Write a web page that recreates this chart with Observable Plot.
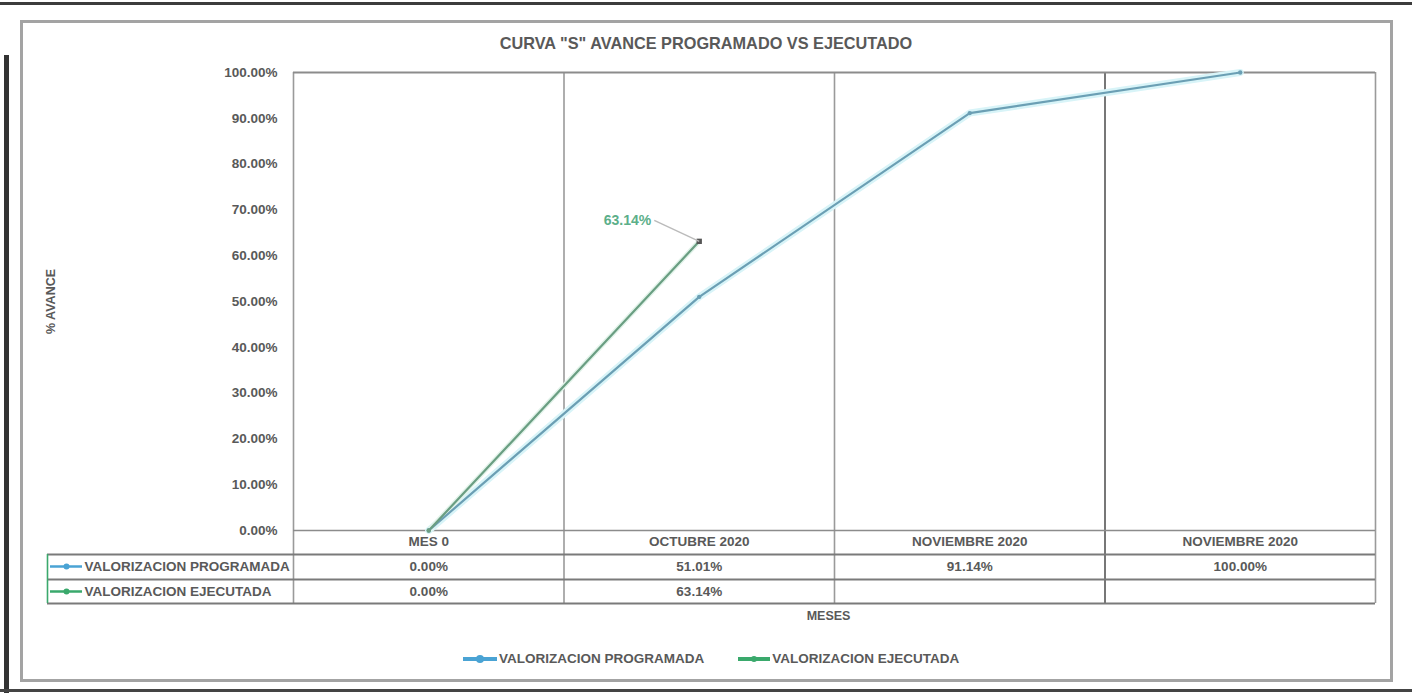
<!DOCTYPE html>
<html>
<head>
<meta charset="utf-8">
<script src="https://cdn.jsdelivr.net/npm/d3@7"></script>
<script src="https://cdn.jsdelivr.net/npm/@observablehq/plot@0.6"></script>
<style>
  body { margin: 0; width: 1412px; height: 693px; position: relative; background: #fff; overflow: hidden;
         font-family: "Liberation Sans", Arial, sans-serif; }
  .scan-top { position: absolute; left: 0; top: 2px; width: 1412px; height: 3px; background: #3c3c3c; }
  .scan-left { position: absolute; left: 4px; top: 55px; width: 5px; height: 638px; background: #333; }
  .scan-bottom { position: absolute; left: 0; top: 689px; width: 1412px; height: 3px; background: #444; }
  .frame { position: absolute; left: 20px; top: 20px; width: 1367px; height: 656px; border: 3px solid #a3a3a3; }
  #title { position: absolute; left: 0; top: 34px; width: 1412px; text-align: center; font-weight: bold;
           font-size: 16.3px; color: #595959; }
  #chart { position: absolute; left: 20px; top: 62px; }
  #legend { position: absolute; left: 463px; top: 651px; display: flex; align-items: center; gap: 34px;
            font-weight: bold; font-size: 13.5px; color: #595959; }
  #legend .item { display: flex; align-items: center; gap: 2px; }
</style>
</head>
<body>
<div class="scan-top"></div>
<div class="scan-left"></div>
<div class="scan-bottom"></div>
<div class="frame"></div>
<div id="title"></div>
<div id="chart"></div>
<div id="legend"></div>
<script>
// ---- data ----
const chartTitle = 'CURVA "S" AVANCE PROGRAMADO VS EJECUTADO';
const yLabel = "% AVANCE";
const xLabel = "MESES";
const categories = ["MES 0", "OCTUBRE 2020", "NOVIEMBRE 2020", "NOVIEMBRE 2020"];
const seriesNames = ["VALORIZACION PROGRAMADA", "VALORIZACION EJECUTADA"];
const programada = [0.0, 0.5101, 0.9114, 1.0];
const ejecutada = [0.0, 0.6314, null, null];
const yTicks = [0, 0.1, 0.2, 0.3, 0.4, 0.5, 0.6, 0.7, 0.8, 0.9, 1.0];
const legendColors = ["#4aa3d4", "#3aa96c"];
const lineColors = ["#6b9fb4", "#6a9e82"];

// ---- layout ----
const W = 1373, H = 568, ML = 273, MR = 18, MT = 10, MB = 100;
const n = categories.length;
const unit = (W - ML - MR) / n;      // px per category
const yUnit = 1 / (H - MT - MB);     // data units per px
const fmt = d3.format(".2%");
const FONT = '"Liberation Sans", Arial, sans-serif';
const txt = {fontWeight: "bold", fontSize: 13.5, fill: "#595959"};

const cats = categories.map((c, i) => ({c, x: i + 0.5}));
const prog = programada.map((v, i) => ({x: i + 0.5, v}));
const ejec = ejecutada.map((v, i) => ({x: i + 0.5, v})).filter(d => d.v != null);
const seriesRows = [prog, ejec];
const rowDy = [36, 61];
const lastEjec = ejec[ejec.length - 1];

document.getElementById("title").textContent = chartTitle;

const marks = [
  // column lines of plot area + table
  Plot.ruleX(d3.range(n + 1), {stroke: d => d === 3 ? "#555" : "#9a9a9a", strokeWidth: 1.6, insetBottom: -73}),
  Plot.ruleY([1], {stroke: "#8c8c8c", strokeWidth: 2}),
  Plot.ruleY([0], {stroke: "#8c8c8c", strokeWidth: 1.6}),
  // table row lines (extend into header column)
  ...[24, 49, 73].map(dy => Plot.ruleY([0], {x1: -246 / unit, x2: n, dy, stroke: "#7a7a7a", strokeWidth: 1.8})),
  Plot.ruleX([-246 / unit], {y1: 0, y2: 0, insetTop: 24, insetBottom: -73, stroke: legendColors[1], strokeWidth: 1.6}),
  // category row
  Plot.text(cats, {x: "x", y: () => 0, text: "c", dy: 11, ...txt}),
  // axis label + x label
  Plot.text([yLabel], {frameAnchor: "left", textAnchor: "middle", rotate: -90, dx: -243, ...txt, fontSize: 12.5}),
  Plot.text([xLabel], {frameAnchor: "bottom", lineAnchor: "middle", dx: -6, dy: 85, ...txt, fontSize: 12.5}),
];

seriesRows.forEach((rows, s) => {
  const dy = rowDy[s];
  marks.push(
    Plot.text(rows, {x: "x", y: () => 0, text: d => fmt(d.v), dy, ...txt}),
    Plot.text([seriesNames[s]], {frameAnchor: "left", y: () => 0, dx: -209, dy, textAnchor: "start", ...txt}),
    Plot.ruleY([0], {x1: -243 / unit, x2: -211 / unit, dy, stroke: legendColors[s], strokeWidth: 2.5}),
    Plot.dot([0], {x: () => -227 / unit, y: d => d, dy, r: 3, fill: legendColors[s]})
  );
});

// series lines
marks.push(
  Plot.line(prog, {x: "x", y: "v", stroke: "#d8f4f8", strokeWidth: 7}),
  Plot.line(ejec, {x: "x", y: "v", stroke: "#e2f3ea", strokeWidth: 5}),
  Plot.line(prog, {x: "x", y: "v", stroke: lineColors[0], strokeWidth: 2.2}),
  Plot.line(ejec, {x: "x", y: "v", stroke: lineColors[1], strokeWidth: 2.2}),
  Plot.dot(prog, {x: "x", y: "v", r: 2.2, fill: lineColors[0]}),
  Plot.dot(ejec.slice(0, -1), {x: "x", y: "v", r: 2.2, fill: lineColors[1]}),
  Plot.dot([lastEjec], {x: "x", y: "v", symbol: "square", r: 3, fill: "#555"}),
  // data label with leader line
  Plot.link([lastEjec], {x1: "x", y1: "v", x2: d => d.x - 45 / unit, y2: d => d.v + 21 * yUnit, stroke: "#bbb", strokeWidth: 1.5}),
  Plot.text([lastEjec], {x: "x", y: "v", text: d => fmt(d.v), dx: -48, dy: -21, textAnchor: "end",
    fill: "#5caf8a", fontWeight: "bold", fontSize: 14}),
  Plot.axisY(yTicks, {tickSize: 0, tickPadding: 16, tickFormat: fmt, label: null, fontWeight: "bold", fontSize: 13.5, fill: "#595959"})
);

const chart = Plot.plot({
  width: W, height: H,
  marginLeft: ML, marginRight: MR, marginTop: MT, marginBottom: MB,
  x: {type: "linear", domain: [0, n], axis: null},
  y: {domain: [0, 1], axis: null},
  style: {fontFamily: FONT, fontSize: "13.5px", color: "#595959", background: "transparent", overflow: "visible"},
  marks
});
document.getElementById("chart").appendChild(chart);

// legend
const legend = document.getElementById("legend");
seriesNames.forEach((name, s) => {
  const item = document.createElement("div");
  item.className = "item";
  const sw = s === 0 ? 34 : 32;
  item.innerHTML = `<svg width="${sw}" height="12"><line x1="0" y1="6" x2="${sw}" y2="6" stroke="${legendColors[s]}" stroke-width="4"/>` +
    `<circle cx="${sw / 2}" cy="6" r="${s === 0 ? 4 : 3}" fill="${legendColors[s]}"/></svg><span>${name}</span>`;
  legend.appendChild(item);
});
</script>
</body>
</html>
